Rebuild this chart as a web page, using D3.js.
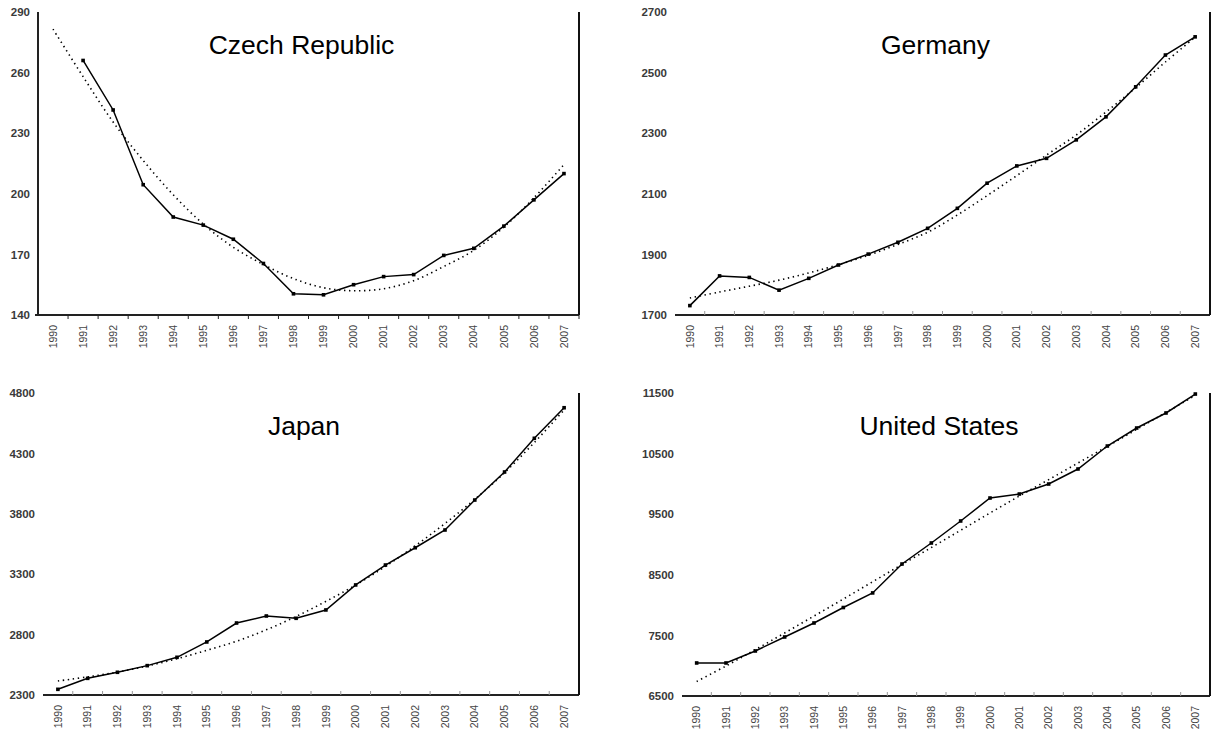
<!DOCTYPE html>
<html><head><meta charset="utf-8">
<script src="https://cdn.jsdelivr.net/npm/d3@7"></script>
<style>body{margin:0;background:#fff}svg{display:block}</style>
</head><body><svg id="c" width="1214" height="742"></svg>
<script>
const years = ["1990","1991","1992","1993","1994","1995","1996","1997","1998","1999","2000","2001","2002","2003","2004","2005","2006","2007"];

const czechValues = [null, 266, 241.5, 204.5, 188.5, 184.5, 177.5, 165.5, 150.5, 150, 155, 159, 160, 169.5, 173, 184, 197, 210];
const czechTrend  = [281.5, 258, 235.5, 216.5, 199.5, 185, 173.5, 165, 158, 153.5, 152, 153, 157, 164, 172, 183.5, 198, 214.5];
const czechTicks  = [140, 170, 200, 230, 260, 290];

const germanyValues = [1731, 1829, 1824, 1782, 1821, 1865, 1901, 1940, 1986, 2052, 2135, 2192, 2217, 2278, 2354, 2453, 2558, 2618];
const germanyTrend  = [1756, 1776, 1795, 1815, 1839, 1866, 1897, 1933, 1973, 2030, 2094, 2160, 2228, 2294, 2370, 2450, 2535, 2617];
const germanyTicks  = [1700, 1900, 2100, 2300, 2500, 2700];

const japanValues = [2347, 2438, 2488, 2543, 2612, 2739, 2896, 2954, 2935, 3004, 3211, 3376, 3519, 3666, 3914, 4146, 4425, 4678];
const japanTrend  = [2416, 2450, 2490, 2540, 2600, 2670, 2745, 2840, 2950, 3075, 3210, 3365, 3535, 3720, 3920, 4140, 4390, 4660];
const japanTicks  = [2300, 2800, 3300, 3800, 4300, 4800];

const usValues = [7045, 7045, 7243, 7474, 7705, 7960, 8201, 8678, 9025, 9388, 9767, 9833, 9998, 10246, 10625, 10922, 11170, 11483];
const usTrend  = [6740, 6995, 7265, 7540, 7820, 8100, 8385, 8670, 8950, 9235, 9520, 9800, 10070, 10345, 10620, 10900, 11180, 11460];
const usTicks  = [6500, 7500, 8500, 9500, 10500, 11500];

const titles = ["Czech Republic", "Germany", "Japan", "United States"];

const layout = [
  {x0: 38,  x1: 579,  yTop: 12,  yBot: 315, leftAxis: true,  tickDown: true},
  {x0: 675, x1: 1210, yTop: 12,  yBot: 315, leftAxis: false, tickDown: false},
  {x0: 43,  x1: 579,  yTop: 393, yBot: 695, leftAxis: false, tickDown: false},
  {x0: 682, x1: 1210, yTop: 393, yBot: 696, leftAxis: false, tickDown: false}
];
const seriesValues = [czechValues, germanyValues, japanValues, usValues];
const seriesTrend = [czechTrend, germanyTrend, japanTrend, usTrend];
const seriesTicks = [czechTicks, germanyTicks, japanTicks, usTicks];

const svg = d3.select("#c");
const font = "'Liberation Sans', Arial, sans-serif";

layout.forEach((L, i) => {
  const ticks = seriesTicks[i];
  const x = d3.scaleBand().domain(years).range([L.x0, L.x1]).padding(0);
  const y = d3.scaleLinear().domain([ticks[0], ticks[ticks.length - 1]]).range([L.yBot, L.yTop]);
  const g = svg.append("g");
  const cx = d => x(d) + x.bandwidth() / 2;

  // y axis labels
  const ya = g.append("g").attr("transform", `translate(${L.x0},0)`)
    .call(d3.axisLeft(y).tickValues(ticks).tickSize(0).tickPadding(8).tickFormat(d3.format("d")));
  ya.select(".domain").remove();
  ya.selectAll("text").attr("font-family", font).attr("font-size", 11.5).attr("font-weight", "bold").attr("fill", "#3a3a3a");
  if (L.leftAxis) {
    g.append("line").attr("x1", L.x0).attr("x2", L.x0).attr("y1", y(ticks[ticks.length - 1])).attr("y2", y(ticks[0]))
      .attr("stroke", "#222").attr("stroke-width", 2);
  }

  // x axis
  const xa = g.append("g").attr("transform", `translate(0,${L.yBot})`)
    .call(d3.axisBottom(x).tickSize(0).tickPadding(0));
  xa.select(".domain").remove();
  xa.selectAll("text").attr("font-family", font).attr("font-size", 10.5).attr("fill", "#444")
    .attr("transform", "rotate(-90)").attr("text-anchor", "end").attr("x", -10).attr("y", 0).attr("dy", "0.35em");
  g.append("line").attr("x1", L.x0 - (L.leftAxis ? 3 : 0)).attr("x2", L.x1).attr("y1", L.yBot).attr("y2", L.yBot)
    .attr("stroke", "#222").attr("stroke-width", 2);
  // boundary tick marks
  const bounds = years.map(d => x(d)).concat([L.x1]).slice(1);
  g.selectAll(".tk").data(bounds).enter().append("line")
    .attr("x1", d => d).attr("x2", d => d)
    .attr("y1", L.yBot).attr("y2", L.yBot + (L.tickDown ? 4 : -4))
    .attr("stroke", L.tickDown ? "#222" : "#999").attr("stroke-width", 1);

  // right border line
  g.append("line").attr("x1", L.x1).attr("x2", L.x1).attr("y1", L.yTop).attr("y2", L.yBot)
    .attr("stroke", "#111").attr("stroke-width", 2);

  // trend (dotted)
  const trend = seriesTrend[i].map((v, k) => ({yr: years[k], v}));
  g.append("path").datum(trend)
    .attr("d", d3.line().x(d => cx(d.yr)).y(d => y(d.v)).curve(d3.curveCatmullRom))
    .attr("fill", "none").attr("stroke", "#000").attr("stroke-width", 1.6)
    .attr("stroke-dasharray", "1.4,3.6");

  // actual series
  const vals = seriesValues[i].map((v, k) => ({yr: years[k], v}));
  g.append("path").datum(vals)
    .attr("d", d3.line().defined(d => d.v != null).x(d => cx(d.yr)).y(d => y(d.v)))
    .attr("fill", "none").attr("stroke", "#000").attr("stroke-width", 1.5);
  g.selectAll(".pt").data(vals.filter(d => d.v != null)).enter().append("rect")
    .attr("x", d => cx(d.yr) - 1.8).attr("y", d => y(d.v) - 1.8)
    .attr("width", 3.6).attr("height", 3.6).attr("fill", "#000");

  // title
  g.append("text").attr("x", (L.x0 + L.x1) / 2 - 7).attr("y", L.yTop + 42)
    .attr("text-anchor", "middle").attr("font-family", font).attr("font-size", 26.5).attr("fill", "#000")
    .text(titles[i]);
});
</script>
</body></html>
